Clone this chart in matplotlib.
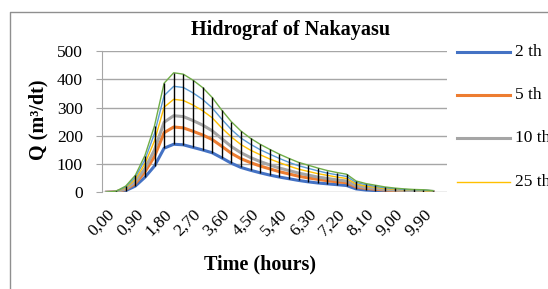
import matplotlib.pyplot as plt
from matplotlib.lines import Line2D

# time axis (hours) and discharge per return period (m3/dt)
times = ["0,00", "0,30", "0,60", "0,90", "1,20", "1,50", "1,80", "2,10", "2,40",
         "2,70", "3,00", "3,30", "3,60", "3,90", "4,20", "4,50", "4,80", "5,10",
         "5,40", "5,70", "6,00", "6,30", "6,60", "6,90", "7,20", "7,50", "7,80",
         "8,10", "8,40", "8,70", "9,00", "9,30", "9,60", "9,90", "10,20"]
q2 = [0, 1, 6, 22, 53, 93, 156, 170, 168, 159, 150, 140, 122, 103, 88, 78, 69, 61,
      54, 48, 42, 37, 33, 30, 27, 24, 12, 8, 6, 4, 3, 3, 2, 2, 1]
q5 = [0, 2, 10, 31, 72, 127, 211, 231, 228, 216, 203, 187, 163, 138, 119, 105, 93, 83,
      73, 65, 57, 51, 46, 41, 37, 34, 19, 14, 11, 8, 6, 5, 4, 4, 2]
q10 = [0, 2, 12, 37, 84, 150, 248, 271, 268, 254, 238, 218, 190, 162, 140, 123, 109, 97,
       86, 77, 68, 61, 54, 49, 44, 40, 23, 17, 14, 10, 8, 7, 5, 5, 3]
q25 = [0, 3, 16, 46, 101, 182, 301, 329, 325, 309, 289, 264, 228, 196, 169, 149, 133, 118,
       105, 93, 82, 74, 66, 60, 54, 49, 30, 22, 18, 13, 11, 9, 7, 6, 4]
q50 = [0, 3, 19, 53, 115, 208, 342, 375, 371, 352, 329, 299, 259, 222, 192, 170, 151, 135,
       120, 106, 94, 85, 76, 68, 62, 56, 35, 27, 21, 16, 13, 10, 8, 8, 5]
q100 = [0, 4, 22, 60, 130, 235, 386, 423, 418, 397, 371, 336, 291, 250, 217, 191, 170, 152,
        135, 120, 106, 96, 86, 77, 70, 64, 40, 31, 25, 19, 15, 12, 10, 9, 6]
series = [q2, q5, q10, q25, q50, q100]
labels = ["2 th", "5 th", "10 th", "25 th", "50 th", "100 th"]
colors = ["#4472C4", "#ED7D31", "#A5A5A5", "#FFC000", "#5B9BD5", "#70AD47"]
widths = [2.2, 2.2, 2.2, 1.0, 1.0, 1.0]

plt.rcParams['font.family'] = ['Liberation Serif', 'DejaVu Serif']

W, H = 548, 289
fig = plt.figure(figsize=(W / 100, H / 100), dpi=100)
ax = fig.add_axes([101.7 / W, 1 - 192.3 / H, (447.3 - 101.7) / W, (192.3 - 51) / H])

x = list(range(len(times)))
for s, c, lw, lab in zip(series, colors, widths, labels):
    ax.plot(x, s, color=c, lw=lw, label=lab, zorder=2)

# high-low lines
lows = [min(v) for v in zip(*series)]
highs = [max(v) for v in zip(*series)]
ax.vlines(x, lows, highs, color='black', lw=1.0, zorder=3)

ax.set_xlim(-0.5, len(times) + 0.5)
ax.set_ylim(0, 500)
ax.set_yticks(range(0, 501, 100))
ax.yaxis.grid(True, color='#A6A6A6', lw=1.0, zorder=0)
ax.set_axisbelow(True)
ax.set_xticks(x[::3])
ax.set_xticklabels(times[::3], rotation=45, ha='right', va='top',
                   rotation_mode='anchor', fontsize=12.5)
ax.tick_params(axis='x', length=0, pad=10)
ax.tick_params(axis='y', length=4.5, color='#A6A6A6', labelsize=12.5, pad=9)
for sp in ['top', 'right', 'bottom']:
    ax.spines[sp].set_visible(False)
ax.spines['left'].set_color('#A6A6A6')

fig.text(291 / W, 1 - 30 / H, "Hidrograf of Nakayasu", ha='center', va='center',
         fontsize=14.5, fontweight='bold')
fig.text(38 / W, 1 - 120 / H, "Q (m³/dt)", rotation=90, ha='center', va='center',
         fontsize=14.5, fontweight='bold')
fig.text(260 / W, 1 - 264 / H, "Time (hours)", ha='center', va='center',
         fontsize=14.5, fontweight='bold')

# legend (only the first four entries fit in the chart area)
for k in range(4):
    yy = 1 - (51.7 + 43.3 * k) / H
    fig.add_artist(Line2D([457 / W, 510 / W], [yy, yy], color=colors[k], lw=widths[k]))
    fig.text(515 / W, yy, labels[k], va='center', fontsize=12.5)

# chart area border
fig.add_artist(Line2D([10 / W, 10 / W, 1], [0, 1 - 12 / H, 1 - 12 / H],
                      color='#8F8F8F', lw=1.0))

fig.savefig("out.png", dpi=100)
